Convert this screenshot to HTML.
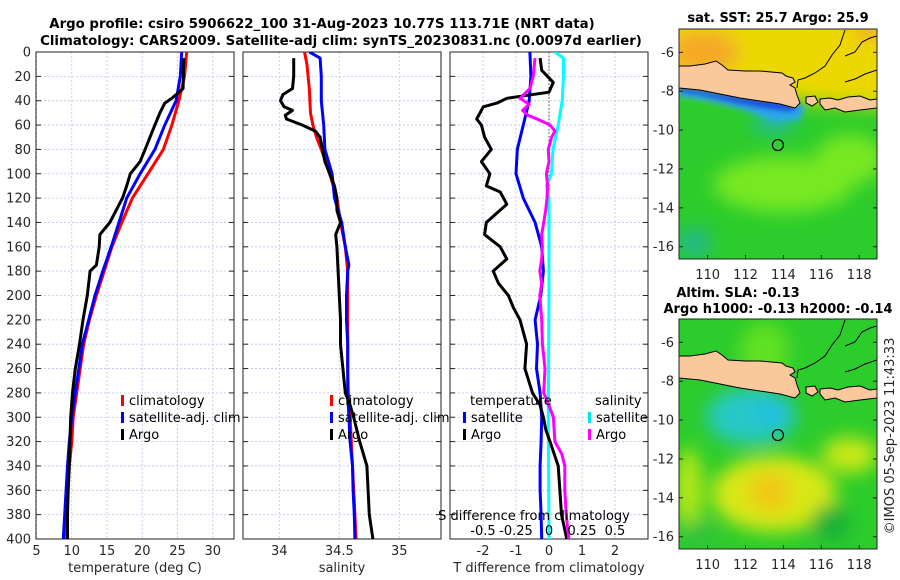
<!DOCTYPE html>
<html><head><meta charset="utf-8">
<style>
html,body{margin:0;padding:0;background:#fff;}
svg{display:block;font-family:"DejaVu Sans","Liberation Sans",sans-serif;}
</style></head>
<body>
<svg id="fig" width="900" height="580" viewBox="0 0 900 580" xmlns="http://www.w3.org/2000/svg">
<defs>
<filter id="blur" x="-50%" y="-50%" width="200%" height="200%"><feGaussianBlur stdDeviation="9"/></filter>
<filter id="blur2" x="-50%" y="-50%" width="200%" height="200%"><feGaussianBlur stdDeviation="3"/></filter>
<clipPath id="m1clip"><rect x="679" y="29" width="198" height="230"/></clipPath>
<clipPath id="m2clip"><rect x="679" y="319" width="198" height="230"/></clipPath>
<clipPath id="c1"><rect x="36" y="52" width="198" height="487"/></clipPath>
<clipPath id="c2"><rect x="243" y="52" width="198" height="487"/></clipPath>
<clipPath id="c3"><rect x="450" y="52" width="198" height="487"/></clipPath>
</defs>
<text x="322" y="28" text-anchor="middle" font-weight="bold" font-size="13.3" fill="#000">Argo profile: csiro 5906622_100 31-Aug-2023 10.77S 113.71E (NRT data)</text>
<text x="341" y="45" text-anchor="middle" font-weight="bold" font-size="13.3" fill="#000">Climatology: CARS2009. Satellite-adj clim: synTS_20230831.nc (0.0097d earlier)</text>
<g id="panels"></g>
<g id="maps"></g>
<text transform="translate(894,436) rotate(-90)" text-anchor="middle" font-size="13" fill="#262626">©IMOS 05-Sep-2023 11:43:33</text>
</svg>
<script>
// ---------- DATA ----------
const climDepth = [0,20,40,60,80,100,120,140,160,180,200,220,240,260,280,300,320,340,360,380,400];
const tempClim = [26.3,26.0,25.2,24.2,23.0,20.8,18.6,17.1,15.7,14.6,13.5,12.5,11.7,11.2,10.7,10.2,10.0,9.65,9.4,9.2,9.0];
const tempSat  = [25.6,25.4,24.8,23.2,21.8,19.7,17.8,16.7,15.6,14.4,13.3,12.4,11.5,11.0,10.5,10.0,9.65,9.4,9.2,9.0,8.8];
const argoTDepth = [5,30,38,42,50,60,80,90,100,110,120,140,150,160,175,180,200,220,240,260,280,300,320,340,360,380,400];
const tempArgo   = [25.9,25.8,24.2,23.2,22.5,21.8,20.4,19.7,18.3,17.8,17.2,15.4,14.0,13.9,13.5,12.6,12.2,11.6,11.1,10.5,10.1,9.85,9.75,9.65,9.5,9.4,9.4];

const salClimDepth = [0,10,30,50,60,70,80,100,120,140,160,180,200,260,280,300,320,340,360,380,400];
const salClim = [34.21,34.23,34.25,34.26,34.28,34.31,34.35,34.42,34.48,34.51,34.55,34.57,34.57,34.57,34.575,34.59,34.60,34.61,34.62,34.63,34.64];
const salSatDepth = [0,5,20,40,60,80,100,120,140,160,175,180,200,220,240,280,300,320,340,360,380,400];
const salSat = [34.25,34.34,34.35,34.35,34.37,34.38,34.44,34.46,34.52,34.55,34.58,34.57,34.56,34.56,34.57,34.57,34.58,34.59,34.61,34.615,34.625,34.63];
const argoSDepth = [5,20,30,35,40,45,48,52,55,60,65,70,80,90,100,110,120,130,140,150,160,180,200,220,240,260,280,290,300,320,340,360,380,400];
const salArgo = [34.12,34.12,34.11,34.03,34.01,34.04,34.11,34.05,34.06,34.19,34.30,34.34,34.36,34.38,34.42,34.46,34.48,34.48,34.51,34.47,34.48,34.49,34.50,34.51,34.51,34.53,34.55,34.59,34.62,34.67,34.73,34.74,34.75,34.78];

const dTSatDepth = [0,20,40,60,80,100,120,140,160,180,200,220,240,260,280,300,320,340,360,380,400];
const dTSat = [-0.58,-0.55,-0.6,-0.78,-0.96,-1.0,-0.78,-0.42,-0.22,-0.17,-0.25,-0.42,-0.35,-0.38,-0.27,-0.22,-0.24,-0.27,-0.27,-0.24,-0.22];
const dTArgoDepth = [5,15,25,33,38,42,45,55,60,70,80,90,100,110,115,125,140,150,160,170,180,190,200,210,220,240,260,280,290,300,310,320,340,360,380,400];
const dTArgo = [-0.27,-0.22,0.13,0.0,-1.28,-1.58,-1.99,-2.19,-2.05,-1.95,-1.75,-2.05,-1.79,-1.9,-1.48,-1.28,-1.9,-1.95,-1.48,-1.28,-1.69,-1.53,-1.23,-1.08,-0.88,-0.68,-0.73,-0.5,-0.27,-0.17,-0.1,0.03,0.28,0.33,0.38,0.54];
const dSSatDepth = [0,5,20,40,60,80,100,110,120,200,300,400];
const dSSat = [0.045,0.11,0.11,0.10,0.07,0.03,0.02,-0.02,0.0,0.0,-0.005,0.0];
const dSArgoDepth = [5,20,30,38,43,48,52,55,60,65,70,80,90,100,110,120,130,140,150,160,170,180,190,200,220,240,260,280,285,300,320,330,340,360,380,400];
const dSArgo = [-0.106,-0.12,-0.144,-0.22,-0.15,-0.2,-0.16,-0.09,0.008,0.045,0.02,-0.005,0.0,-0.02,-0.01,-0.015,-0.025,-0.04,-0.055,-0.05,-0.055,-0.07,-0.055,-0.07,-0.055,-0.05,-0.03,-0.04,-0.02,0.033,0.045,0.096,0.12,0.12,0.13,0.15];

const depthTicks = [0,20,40,60,80,100,120,140,160,180,200,220,240,260,280,300,320,340,360,380,400];
const tTicks = [5,10,15,20,25,30];
const sTicks = [34,34.5,35];
const dTTicks = [-2,-1,0,1,2];
const dSTicks = [-0.5,-0.25,0,0.25,0.5];
const mapLonTicks = [110,112,114,116,118];
const mapLatTicks = [-6,-8,-10,-12,-14,-16];
const argoLon = 113.71, argoLat = -10.77;

// ---------- SCALES ----------
const yD = d => 52 + d*1.2175;
const x1 = t => 36.5 + (t-5)*7.05;
const x2 = s => 279.3 + (s-34)*120;
const x3 = v => 549 + v*33;
const x3s = v => 549 + v*132;
const NS = 'http://www.w3.org/2000/svg';
function mk(tag, attrs, parent){ const e=document.createElementNS(NS,tag); for(const k in attrs) e.setAttribute(k,attrs[k]); parent.appendChild(e); return e; }
const panels = document.getElementById('panels');

function line(depths, vals, sx, color, name, clip){
  const pts = depths.map((d,i)=> sx(vals[i]).toFixed(1)+','+yD(d).toFixed(1)).join(' ');
  const p = mk('polyline',{points:pts,fill:'none',stroke:color,'stroke-width':3,'stroke-linejoin':'round','clip-path':'url(#'+clip+')'},panels);
  
  
}

function frame(x0, w, ticks, sx, labels, name, xtitle){
  const g = mk('g',{},panels);
  
  
  depthTicks.forEach(d=>{ mk('line',{x1:x0,x2:x0+w,y1:yD(d),y2:yD(d),stroke:'#bcc4e6','stroke-width':0.8,'stroke-dasharray':'2,2'},g); });
  ticks.forEach(t=>{ const x=sx(t); if(x>x0&&x<x0+w) mk('line',{x1:x,x2:x,y1:52,y2:539,stroke:'#bcc4e6','stroke-width':0.8,'stroke-dasharray':'2,2'},g); });
  mk('rect',{x:x0,y:52,width:w,height:487,fill:'none',stroke:'#222','stroke-width':1},g);
  depthTicks.forEach(d=>{ mk('line',{x1:x0,x2:x0+5,y1:yD(d),y2:yD(d),stroke:'#222'},g); mk('line',{x1:x0+w-5,x2:x0+w,y1:yD(d),y2:yD(d),stroke:'#222'},g); });
  if(labels){
    ticks.forEach(t=>{ const x=sx(t); const tx=mk('text',{x:x,y:555,'text-anchor':'middle','font-size':13,fill:'#262626'},g); tx.textContent=t;   });
  }
  const tt = mk('text',{x:x0+w/2,y:572,'text-anchor':'middle','font-size':13,fill:'#262626'},g);
  tt.textContent = xtitle;
  
  
}

frame(36,198,tTicks,x1,true,'temperature-panel','temperature (deg C)');
frame(243,198,sTicks,x2,true,'salinity-panel','salinity');
frame(450,198,dTTicks,x3,false,'difference-panel','T difference from climatology');
depthTicks.forEach(d=>{ const t=mk('text',{x:31,y:yD(d)+4.5,'text-anchor':'end','font-size':13,fill:'#262626'},panels); t.textContent=d;
  
   });
dTTicks.forEach(v=>{ const t=mk('text',{x:x3(v),y:555,'text-anchor':'middle','font-size':13,fill:'#262626'},panels); t.textContent=v;
  
   });
mk('line',{x1:549,x2:549,y1:52,y2:539,stroke:'#555522','stroke-width':1,'stroke-dasharray':'1.5,2'},panels);

line(climDepth,tempClim,x1,'#ff0000','temp-climatology-line','c1');
line(climDepth,tempSat,x1,'#0000ff','temp-satellite-line','c1');
line(argoTDepth,tempArgo,x1,'#000000','temp-argo-line','c1');
line(salClimDepth,salClim,x2,'#ff0000','sal-climatology-line','c2');
line(salSatDepth,salSat,x2,'#0000ff','sal-satellite-line','c2');
line(argoSDepth,salArgo,x2,'#000000','sal-argo-line','c2');
line(dSSatDepth,dSSat,x3s,'#00ffff','ds-satellite-line','c3');
line(dTSatDepth,dTSat,x3,'#0000ff','dt-satellite-line','c3');
line(dTArgoDepth,dTArgo,x3,'#000000','dt-argo-line','c3');
line(dSArgoDepth,dSArgo,x3s,'#ff00ff','ds-argo-line','c3');

{
 const t=mk('text',{x:534,y:520,'text-anchor':'middle','font-size':13,fill:'#000'},panels); t.textContent='S difference from climatology';
  
 dSTicks.forEach(v=>{ const s=mk('text',{x:x3s(v),y:535,'text-anchor':'middle','font-size':13,fill:'#000'},panels); s.textContent=v;
    });
}

function legendEntry(x,y,color,label){
  const g=mk('g',{},panels);
  
  
  if(color) mk('rect',{x:x-8,y:y-10,width:3,height:11,fill:color},g);
  const t=mk('text',{x:x,y:y,'font-size':13,fill:'#000'},g); t.textContent=label;
}
legendEntry(129,405,'#ff0000','climatology');
legendEntry(129,422,'#0000ff','satellite-adj. clim');
legendEntry(129,439,'#000000','Argo');
legendEntry(338,405,'#ff0000','climatology');
legendEntry(338,422,'#0000ff','satellite-adj. clim');
legendEntry(338,439,'#000000','Argo');
legendEntry(470,405,null,'temperature');
legendEntry(471,422,'#0000ff','satellite');
legendEntry(471,439,'#000000','Argo');
legendEntry(595,405,null,'salinity');
legendEntry(596,422,'#00e5ee','satellite');
legendEntry(596,439,'#ff00ff','Argo');

// ---------- MAPS ----------
const maps = document.getElementById('maps');
const mx = lon => 679 + (lon-108.49)*18.95;
const my = (lat,off) => off + 29 + (-4.8-lat)*19.44;
function drawMap(off, clip, name, blobs, bg, pre){
  const g=mk('g',{},maps);
  
  
  const inner=mk('g',{'clip-path':'url(#'+clip+')'},g);
  mk('rect',{x:679,y:29+off,width:198,height:230,fill:bg},inner);
  const bl=mk('g',{filter:'url(#blur)'},inner);
  if(pre) pre(bl);
  blobs.forEach(b=>mk('ellipse',{cx:mx(b[0]),cy:my(b[1],off),rx:b[2],ry:b[3],fill:b[4]},bl));
  return {g,inner};
}
function coast(inner, off, blueBand){
  const o=off;
  if(blueBand){
    const bb=mk('g',{filter:'url(#blur2)'},inner);
    mk('polygon',{points:`679,${o+86} 700,${o+89} 740,${o+96} 780,${o+101} 805,${o+106} 800,${o+120} 775,${o+122} 750,${o+112} 720,${o+104} 700,${o+100} 679,${o+97}`,fill:'#2aa8e8'},bb);
    mk('polygon',{points:`679,${o+87} 700,${o+90} 740,${o+97} 780,${o+102} 800,${o+107} 790,${o+112} 760,${o+108} 730,${o+102} 700,${o+95} 679,${o+92}`,fill:'#1a40e0'},bb);
  }
  const java=`679,${o+66} 690,${o+66} 705,${o+64} 716,${o+61} 722,${o+65} 728,${o+70} 745,${o+71} 760,${o+71} 782,${o+73} 786,${o+76} 793,${o+78} 795,${o+82} 790,${o+85} 795,${o+88} 797,${o+95} 800,${o+103} 795,${o+108} 780,${o+104} 760,${o+101} 740,${o+98} 720,${o+94} 700,${o+90} 679,${o+88}`;
  mk('polygon',{points:java,fill:'#f9c89b',stroke:'#000','stroke-width':1},inner);
  mk('polygon',{points:`806,${o+97} 815,${o+96} 818,${o+102} 812,${o+106} 806,${o+103}`,fill:'#f9c89b',stroke:'#000','stroke-width':1},inner);
  mk('polygon',{points:`820,${o+99} 830,${o+98} 838,${o+100} 848,${o+97} 860,${o+96} 870,${o+100} 877,${o+99} 877,${o+108} 860,${o+110} 845,${o+112} 835,${o+108} 825,${o+110} 820,${o+104}`,fill:'#f9c89b',stroke:'#000','stroke-width':1},inner);
  mk('polyline',{points:`797,${o+88} 798,${o+80} 805,${o+78} 815,${o+73} 825,${o+66} 832,${o+55} 840,${o+45} 845,${o+30}`,fill:'none',stroke:'#000','stroke-width':1},inner);
  mk('polyline',{points:`845,${o+56} 855,${o+52} 862,${o+42} 870,${o+38} 877,${o+36}`,fill:'none',stroke:'#000','stroke-width':1},inner);
  mk('polyline',{points:`845,${o+82} 855,${o+79} 865,${o+74} 877,${o+70}`,fill:'none',stroke:'#000','stroke-width':1},inner);
}
function axes(g, off){
  mk('rect',{x:679,y:29+off,width:198,height:230,fill:'none',stroke:'#222','stroke-width':1},g);
  mk('circle',{cx:mx(argoLon),cy:my(argoLat,off),r:5.5,fill:'none',stroke:'#000','stroke-width':1.2},g);
  mapLonTicks.forEach(l=>{ const x=mx(l); mk('line',{x1:x,x2:x,y1:off+259,y2:off+255,stroke:'#222'},g);
    const t=mk('text',{x:x,y:off+279,'text-anchor':'middle','font-size':13,fill:'#262626'},g); t.textContent=l; });
  mapLatTicks.forEach(l=>{ const y=my(l,off); mk('line',{x1:679,x2:683,y1:y,y2:y,stroke:'#222'},g); mk('line',{x1:873,x2:877,y1:y,y2:y,stroke:'#222'},g);
    const t=mk('text',{x:674,y:y+4.5,'text-anchor':'end','font-size':13,fill:'#262626'},g); t.textContent=l; });
}
const m1 = drawMap(0,'m1clip','sst-map',[
  [109.8,-6.0,35,22,'#f5a828'],[118.5,-4.9,15,8,'#f5a020'],
  [114,-12.8,70,28,'#78e820'],[117.5,-11.5,35,25,'#78e820'],[113.5,-9.6,22,10,'#20b8b0'],[109.3,-15.8,18,15,'#22b88a']
],'#2ccc2c', bl=>{
  mk('polygon',{points:`660,10 900,10 900,108 820,104 800,100 760,95 679,86 660,86`,fill:'#ecd800'},bl);
});
coast(m1.inner,0,true);
axes(m1.g,0);
const m2 = drawMap(290,'m2clip','sla-map',[
  [113,-6.5,25,30,'#60e020'],[112.3,-9.8,45,28,'#28c8c8'],[113.5,-9.5,20,14,'#20c0e0'],
  [113.5,-13.8,62,38,'#d8e818'],[113.3,-13.7,22,20,'#f0c818'],[117.5,-11.8,28,18,'#c8e818'],
  [116.5,-15.3,20,18,'#18b038'],[109,-13.5,14,40,'#b8e818'],[109.5,-15.8,18,12,'#30c040']
],'#2ccc2c');
coast(m2.inner,290,false);
axes(m2.g,290);
{
 const a=mk('text',{x:778,y:22,'text-anchor':'middle','font-weight':'bold','font-size':13,fill:'#000'},maps); a.textContent='sat. SST: 25.7 Argo: 25.9';
  
 const b=mk('text',{x:738,y:297,'text-anchor':'middle','font-weight':'bold','font-size':13,fill:'#000'},maps); b.textContent='Altim. SLA: -0.13';
  
 const c=mk('text',{x:778,y:313,'text-anchor':'middle','font-weight':'bold','font-size':13,fill:'#000'},maps); c.textContent='Argo h1000: -0.13 h2000: -0.14';
  
}
</script>
</body></html>
